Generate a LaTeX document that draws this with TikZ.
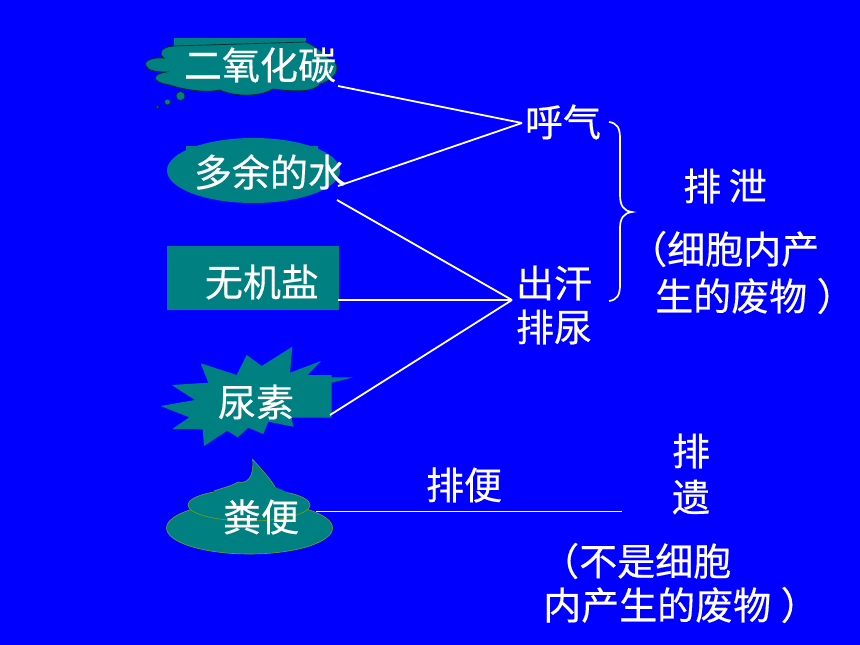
\documentclass[tikz,border=0pt]{standalone}
\usepackage{fontspec}
\newfontfamily\cjk[FakeBold=0.4]{Noto Sans CJK SC}
\definecolor{bgblue}{RGB}{0,0,255}
\definecolor{tealfill}{RGB}{0,128,128}
\definecolor{olivel}{RGB}{120,160,20}
\tikzset{
  lab/.style={text=white,font=\cjk\fontsize{38}{40}\selectfont,inner sep=0pt,anchor=center},
  link/.style={draw=white,line width=1.8pt},
  tshape/.style={fill=tealfill},
}
\begin{document}
\begin{tikzpicture}[x=1pt,y=-1pt]
\useasboundingbox (0,0) rectangle (860,645);
\fill[bgblue] (0,0) rectangle (860,645);
% cloud
\fill[tealfill] (174,38) rectangle (306,50);
\filldraw[tealfill,draw=black!70!tealfill,line width=.7pt]
 (174,46) .. controls (160,47) and (158,54) .. (164,58)
 .. controls (150,57) and (143,62) .. (146,66)
 .. controls (148,71) and (158,72) .. (166,72)
 .. controls (152,74) and (150,82) .. (170,85)
 .. controls (185,90) and (205,93) .. (220,90)
 .. controls (235,97) and (260,97) .. (273,89)
 .. controls (295,92) and (315,92) .. (320,84)
 .. controls (340,78) and (342,62) .. (328,58)
 .. controls (322,50) and (310,44) .. (306,42) -- cycle;
\filldraw[tealfill,draw=black!70!tealfill,line width=.6pt] (180.5,96) circle (4.5);
\filldraw[tealfill,draw=black!70!tealfill,line width=.6pt] (167.5,102) circle (3);
\filldraw[tealfill,draw=black!70!tealfill,line width=.5pt] (157.7,107) circle (1.5);
% ellipse
\fill[tealfill] (253.5,170.5) ellipse (86.5 and 32.5);
\fill[tealfill] (186,146) rectangle (318,160);
% rect
\fill[tealfill] (167,246) rectangle (339,310);
% explosion
\fill[tealfill] (160.7,406) -- (195,400) -- (171.7,385) -- (208.3,382.7) -- (200.7,363.3) -- (236.7,375) -- (246.7,355) -- (261.7,366) -- (292.3,346.7) -- (290,372.7) -- (321,361) -- (307.7,375) -- (331.7,375) -- (331.7,377.3) -- (353.3,377.3) -- (331.7,382.7) -- (331.7,417.7) -- (291.7,417.7) -- (293.3,426.7) -- (268.3,421.7) -- (263.3,434) -- (248.3,427.7) -- (237.7,437.3) -- (227.3,430.7) -- (204,446) -- (202.7,429.3) -- (172.3,429) -- (189.3,417.3) -- cycle;
% dropping
\filldraw[tealfill,draw=olivel,line width=.6pt] (249.5,528) ellipse (83 and 26);
\filldraw[tealfill,draw=olivel,line width=.6pt] (249,505) ellipse (61 and 16);
\fill[tealfill] (214,491) .. controls (222,488) and (232,486) .. (238,482)
 .. controls (247,484) and (254,478) .. (252.7,459.3)
 .. controls (260,468) and (270,478) .. (275,487)
 .. controls (280,489) and (285,491) .. (290,494) -- (290,510) -- (214,510) -- cycle;
\draw[olivel,line width=.6pt] (214,491) .. controls (222,488) and (232,486) .. (238,482)
 .. controls (247,484) and (254,478) .. (252.7,459.3)
 .. controls (260,468) and (270,478) .. (275,487);
% labels
\node[lab] (co2) at (260,65) {二氧化碳};
\node[lab] (water) at (270,172) {多余的水};
\node[lab] (salt) at (262,282) {无机盐};
\node[lab] (urea) at (256,402) {尿素};
\node[lab] (feces) at (261,517) {粪便};
\node[lab] (breath) at (563,122) {呼气};
\node[lab] (sweat) at (554,283) {出汗};
\node[lab] (urine) at (554,327) {排尿};
\node[lab] (excr) at (725,186) {排\hspace{.2em}泄};
\node[lab,anchor=west] (ca) at (629,249) {（细胞内产};
\node[lab,anchor=west] (cb) at (655,296) {生的废物\hspace{.25em}）};
\node[lab] (defec) at (464,485) {排便};
\node[lab] (ega) at (691,451) {排};
\node[lab] (egb) at (691,497) {遗};
\node[lab,anchor=west] (da) at (541,561) {（不是细胞};
\node[lab,anchor=west] (db) at (543,605) {内产生的废物\hspace{.25em}）};
% connector ends
\coordinate (jbreath) at (522,123);
\coordinate (jsweat) at (512,300);
\coordinate (jfeces) at (622,511.5);
\coordinate (oco2) at (338,86);
\coordinate (owater) at (338,186);
\coordinate (owaterb) at (337,200);
\coordinate (osalt) at (338,300);
\coordinate (ourea) at (330,415);
\coordinate (ofeces) at (316,511.5);
\draw[link] (oco2) -- (jbreath);
\draw[link] (owater) -- (jbreath);
\draw[link] (owaterb) -- (jsweat);
\draw[link] (osalt) -- (jsweat);
\draw[link] (ourea) -- (jsweat);
\draw[link] (ofeces) -- (jfeces);
% brace
\draw[white,line width=1.7pt] (609,122) .. controls (617,123) and (620,128) .. (620,138)
 -- (620,195) .. controls (620,206) and (624,211) .. (632,212)
 .. controls (624,213) and (620,218) .. (620,228)
 -- (620,285) .. controls (620,295) and (617,300) .. (609,301);
\end{tikzpicture}
\end{document}
